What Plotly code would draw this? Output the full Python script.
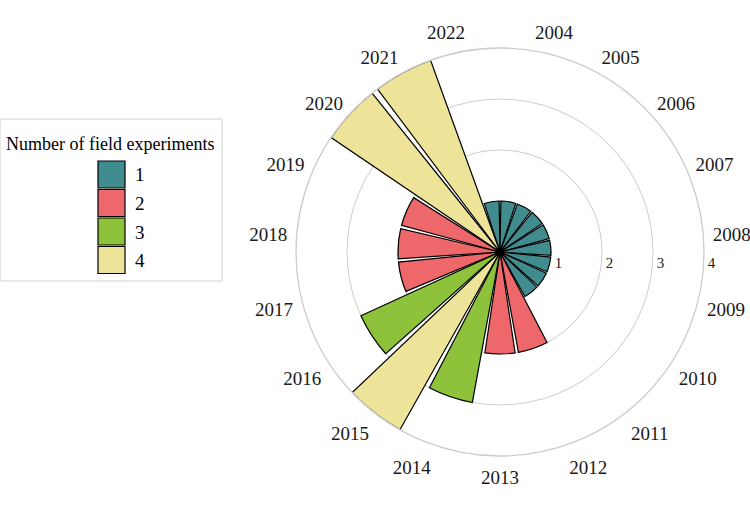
import plotly.graph_objects as go

years = [str(y) for y in range(2004, 2023)]
counts = [1, 1, 1, 1, 1, 1, 1, 1, 2, 2, 3, 4, 3, 2, 2, 2, 4, 4, 1]
levels = [1, 2, 3, 4]
level_colors = ["#408C8F", "#EE686B", "#8DC23A", "#EDE499"]
legend_title = "Number of field experiments"
radial_ticks = [1, 2, 3, 4]

W, H = 750, 516
FONT = "Liberation Serif"

def px(x):
    return x / W

def py(y):
    return 1 - y / H

fig = go.Figure()
for lvl, col in zip(levels, level_colors):
    th = [y for y, c in zip(years, counts) if c == lvl]
    rr = [c for c in counts if c == lvl]
    fig.add_trace(go.Barpolar(
        r=rr, theta=th, width=0.9, name=str(lvl),
        marker=dict(color=col, line=dict(color="black", width=1.2)),
        showlegend=False,
    ))

fig.update_layout(
    width=W, height=H,
    margin=dict(l=0, r=0, t=0, b=0),
    paper_bgcolor="white",
    showlegend=False,
    polar=dict(
        domain=dict(x=[px(296), px(704)], y=[py(456), py(48)]),
        bgcolor="white",
        bargap=0,
        angularaxis=dict(
            type="category",
            categoryorder="array", categoryarray=years,
            rotation=90 - 180 / 19, direction="clockwise",
            showgrid=False, showline=True, linecolor="#cccccc", linewidth=1.3,
            ticks="outside", ticklen=5, tickcolor="rgba(0,0,0,0)",
            tickfont=dict(family=FONT, size=19, color="#1a1a1a"),
        ),
        radialaxis=dict(
            range=[0, 4], tickvals=radial_ticks,
            ticktext=["\u00a0\u00a0\u00a0\u00a0" + str(v) for v in radial_ticks],
            showline=False, ticks="", angle=0, side="clockwise",
            gridcolor="#cccccc", gridwidth=1.3,
            tickfont=dict(family=FONT, size=15, color="#222222"),
        ),
    ),
)

# legend box
shapes = [dict(type="rect", xref="paper", yref="paper",
               x0=px(0), x1=px(222), y0=py(281), y1=py(119),
               line=dict(color="#d0d0d0", width=1), fillcolor="white", layer="below")]
annotations = [dict(text=legend_title, xref="paper", yref="paper",
                    x=px(110), y=py(144), showarrow=False,
                    font=dict(family=FONT, size=18, color="black"),
                    xanchor="center", yanchor="middle")]
for i, (lvl, col) in enumerate(zip(levels, level_colors)):
    top = 161 + i * 28.5
    shapes.append(dict(type="rect", xref="paper", yref="paper",
                       x0=px(98), x1=px(125), y0=py(top + 27), y1=py(top),
                       line=dict(color="black", width=1.2), fillcolor=col))
    annotations.append(dict(text=str(lvl), xref="paper", yref="paper",
                            x=px(133), y=py(top + 14), showarrow=False,
                            font=dict(family=FONT, size=19, color="black"),
                            xanchor="left", yanchor="middle"))
fig.update_layout(shapes=shapes, annotations=annotations)

fig.write_html("out.html")
